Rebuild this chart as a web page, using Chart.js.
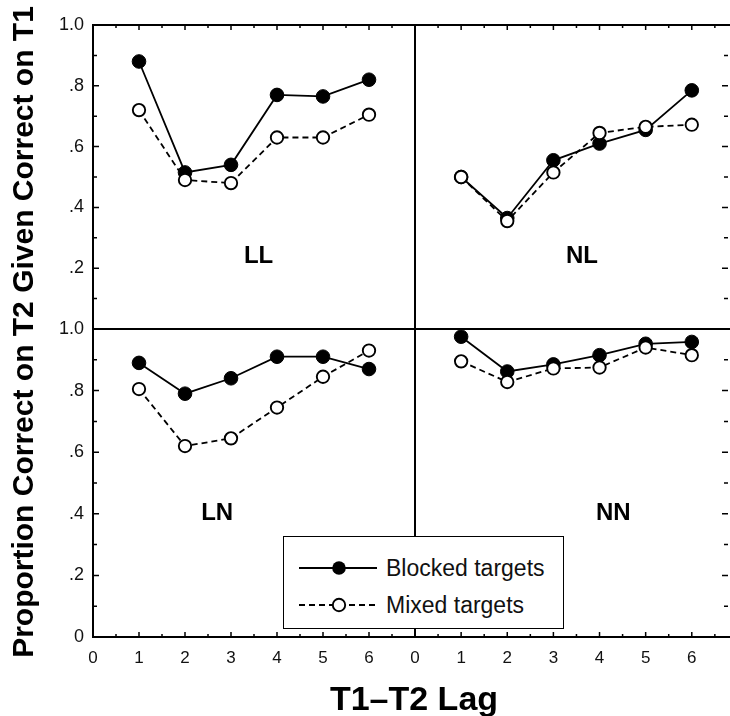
<!DOCTYPE html>
<html>
<head>
<meta charset="utf-8">
<script src="https://cdn.jsdelivr.net/npm/chart.js@4/dist/chart.umd.min.js"></script>
<style>
html, body { margin: 0; padding: 0; background: #fff; overflow: hidden; }
#wrap { position: relative; width: 730px; height: 716px; overflow: hidden; font-family: "Liberation Sans", Arial, sans-serif; }
#wrap canvas { position: absolute; left: 0; top: 0; }
#ytitle { position: absolute; left: -327px; top: 315px; width: 700px; height: 34px; line-height: 34px;
  text-align: center; font-weight: bold; font-size: 30px; color: #000; transform: rotate(-90deg); white-space: nowrap; }
#xtitle { position: absolute; left: 214px; top: 678px; width: 400px; height: 40px; line-height: 40px;
  text-align: center; font-weight: bold; font-size: 34px; color: #000; white-space: nowrap; }
#legend { position: absolute; left: 283px; top: 536px; width: 281px; height: 93px; box-sizing: border-box;
  border: 1.5px solid #000; background: #fff; }
#legend .row { position: absolute; left: 0; width: 100%; height: 30px; }
#legend svg { position: absolute; left: 13px; top: 0; }
#legend span { position: absolute; left: 102px; top: 0; line-height: 30px; font-size: 23px; color: #111; white-space: nowrap; }
</style>
</head>
<body>
<div id="wrap">
  <canvas id="ll" width="740" height="716"></canvas>
  <canvas id="nl" width="740" height="716"></canvas>
  <canvas id="ln" width="740" height="716"></canvas>
  <canvas id="nn" width="740" height="716"></canvas>
  <div id="ytitle">Proportion Correct on T2 Given Correct on T1</div>
  <div id="xtitle">T1–T2 Lag</div>
  <div id="legend">
    <div class="row" style="top:16px">
      <svg width="82" height="30"><line x1="2" y1="15" x2="80" y2="15" stroke="#000" stroke-width="1.8"/><circle cx="42" cy="15" r="6.8" fill="#000"/></svg>
      <span>Blocked targets</span>
    </div>
    <div class="row" style="top:53px">
      <svg width="82" height="30"><line x1="2" y1="15" x2="80" y2="15" stroke="#000" stroke-width="1.8" stroke-dasharray="6,4"/><circle cx="42" cy="15" r="6.2" fill="#fff" stroke="#000" stroke-width="1.9"/></svg>
      <span>Mixed targets</span>
    </div>
  </div>
</div>
<script>
// T1-T2 lag (x) and proportion correct (y) per condition
var lags = [1, 2, 3, 4, 5, 6];
var xTickLabels = ['0', '1', '2', '3', '4', '5', '6'];
var yTickLabels = ['0', '.2', '.4', '.6', '.8', '1.0'];

var llBlocked = [0.88, 0.515, 0.54, 0.77, 0.765, 0.82];
var llMixed   = [0.72, 0.49, 0.48, 0.63, 0.63, 0.705];
var nlBlocked = [0.50, 0.365, 0.555, 0.61, 0.655, 0.785];
var nlMixed   = [0.50, 0.355, 0.515, 0.645, 0.665, 0.672];
var lnBlocked = [0.89, 0.79, 0.84, 0.91, 0.91, 0.87];
var lnMixed   = [0.805, 0.62, 0.645, 0.745, 0.845, 0.93];
var nnBlocked = [0.975, 0.862, 0.885, 0.915, 0.952, 0.958];
var nnMixed   = [0.895, 0.828, 0.872, 0.875, 0.94, 0.915];

var AXIS_W = 40, AXIS_H = 40; // room kept for tick labels

var panels = [
  { id: 'll', name: 'LL', blocked: llBlocked, mixed: llMixed, box: [93, 25, 415, 329], xMax: 7,
    yLabels: true, xLabels: false, hideZero: true, ticks: ['left', 'top'], tag: [3.6, 0.24] },
  { id: 'nl', name: 'NL', blocked: nlBlocked, mixed: nlMixed, box: [415, 25, 731, 329], xMax: 6.85,
    yLabels: false, xLabels: false, ticks: ['right', 'top'], tag: [3.62, 0.24] },
  { id: 'ln', name: 'LN', blocked: lnBlocked, mixed: lnMixed, box: [93, 329, 415, 637], xMax: 7,
    yLabels: true, xLabels: true, ticks: ['left', 'bottom'], tag: [2.7, 0.4] },
  { id: 'nn', name: 'NN', blocked: nnBlocked, mixed: nnMixed, box: [415, 329, 731, 637], xMax: 6.85,
    yLabels: false, xLabels: true, ticks: ['right', 'bottom'], tag: [4.3, 0.4] }
];

// frame, inward tick marks and the panel tag
var framePlugin = {
  id: 'frame',
  beforeDatasetsDraw: function(chart, args, opts) {
    var ctx = chart.ctx, a = chart.chartArea;
    var xs = chart.scales.x, ys = chart.scales.y;
    ctx.save();
    ctx.strokeStyle = '#000';
    ctx.lineWidth = 2;
    ctx.strokeRect(a.left, a.top, a.right - a.left, a.bottom - a.top);
    ctx.lineWidth = 1.5;
    ctx.beginPath();
    var i, p, len;
    for (i = 0; i <= 10; i++) {
      p = ys.getPixelForValue(i / 10);
      len = (i % 2 === 0) ? 6 : 4;
      if (opts.sides.indexOf('left') > -1) { ctx.moveTo(a.left, p); ctx.lineTo(a.left + len, p); }
      if (opts.sides.indexOf('right') > -1) { ctx.moveTo(a.right - 3, p); ctx.lineTo(a.right - 3 - len, p); }
    }
    for (i = 0; i / 2 <= xs.max; i++) {
      p = xs.getPixelForValue(i / 2);
      len = (i % 2 === 0) ? 5 : 3;
      if (opts.sides.indexOf('top') > -1) { ctx.moveTo(p, a.top); ctx.lineTo(p, a.top + len); }
      if (opts.sides.indexOf('bottom') > -1) { ctx.moveTo(p, a.bottom); ctx.lineTo(p, a.bottom - len); }
    }
    ctx.stroke();
    ctx.fillStyle = '#000';
    ctx.font = 'bold 24px "Liberation Sans", Arial, sans-serif';
    ctx.textAlign = 'center';
    ctx.textBaseline = 'middle';
    ctx.fillText(opts.name, xs.getPixelForValue(opts.tag[0]), ys.getPixelForValue(opts.tag[1]));
    ctx.restore();
  }
};

function toPoints(vals) {
  return lags.map(function(l, i) { return { x: l, y: vals[i] }; });
}

panels.forEach(function(pn) {
  var W = 740, H = 716;
  var padL = pn.box[0] - (pn.yLabels ? AXIS_W : 0);
  var padB = H - pn.box[3] - (pn.xLabels ? AXIS_H : 0);
  new Chart(document.getElementById(pn.id), {
    type: 'line',
    data: {
      datasets: [{
        label: 'Mixed targets',
        data: toPoints(pn.mixed),
        borderColor: '#000',
        borderWidth: 1.8,
        borderDash: [6, 4],
        pointRadius: 6.2,
        pointBackgroundColor: '#fff',
        pointBorderColor: '#000',
        pointBorderWidth: 1.9,
        tension: 0,
        clip: false
      }, {
        label: 'Blocked targets',
        data: toPoints(pn.blocked),
        borderColor: '#000',
        borderWidth: 1.8,
        pointRadius: 6.8,
        pointBackgroundColor: '#000',
        pointBorderColor: '#000',
        pointBorderWidth: 1,
        tension: 0,
        clip: false
      }]
    },
    options: {
      responsive: false,
      animation: false,
      events: [],
      layout: { padding: { left: padL, top: pn.box[1], right: W - pn.box[2], bottom: padB } },
      plugins: {
        legend: { display: false },
        tooltip: { enabled: false },
        frame: { sides: pn.ticks, name: pn.name, tag: pn.tag }
      },
      scales: {
        x: {
          type: 'linear', min: 0, max: pn.xMax,
          display: pn.xLabels,
          grid: { display: false, drawTicks: false },
          border: { display: false },
          ticks: {
            stepSize: 1, includeBounds: false, maxRotation: 0, autoSkip: false, padding: 11,
            color: '#111', font: { family: '"Liberation Sans", Arial, sans-serif', size: 17 },
            callback: function(v) { return xTickLabels[v] || ''; }
          },
          afterFit: function(s) { s.height = pn.xLabels ? AXIS_H : 0; s.paddingLeft = 0; s.paddingRight = 0; }
        },
        y: {
          type: 'linear', min: 0, max: 1,
          display: pn.yLabels,
          grid: { display: false, drawTicks: false },
          border: { display: false },
          ticks: {
            stepSize: 0.2, padding: 9,
            color: '#111', font: { family: '"Liberation Sans", Arial, sans-serif', size: 18 },
            callback: function(v) {
              var k = Math.round(v * 5);
              if (k === 0 && pn.hideZero) return '';
              return yTickLabels[k];
            }
          },
          afterFit: function(s) { s.width = pn.yLabels ? AXIS_W : 0; s.paddingTop = 0; s.paddingBottom = 0; }
        }
      }
    },
    plugins: [framePlugin]
  });
});
</script>
</body>
</html>
